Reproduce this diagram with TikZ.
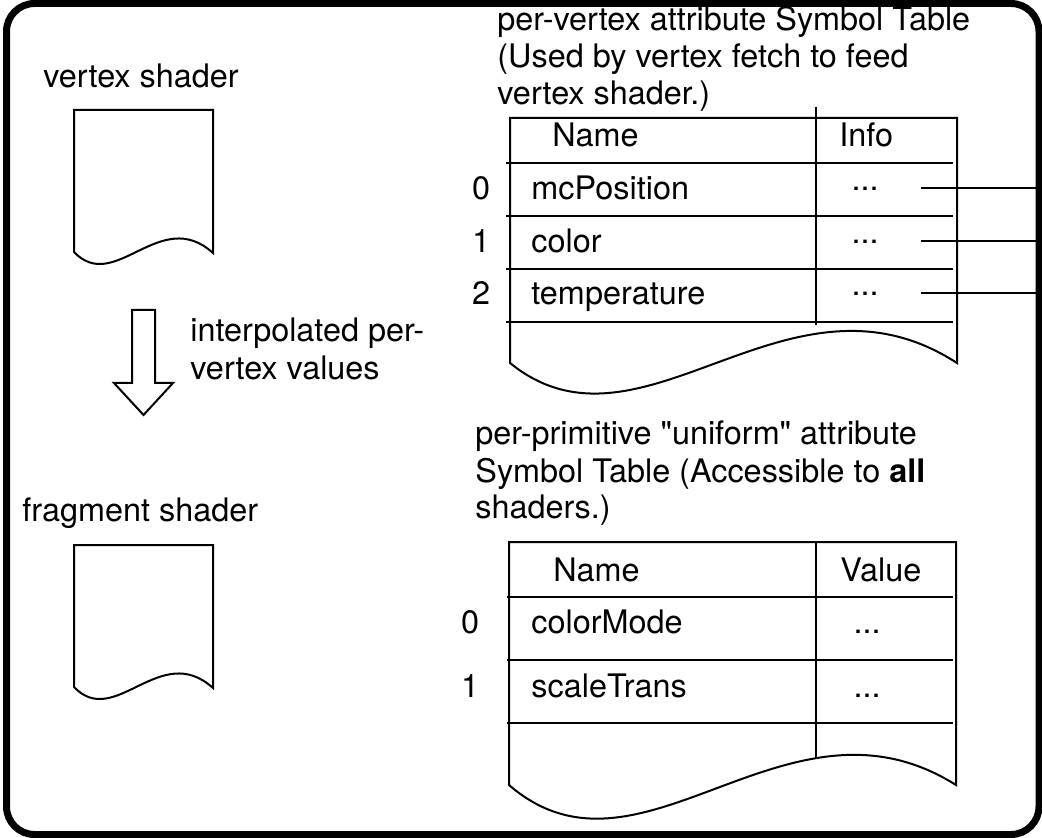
\documentclass[tikz,border=0pt]{standalone}
\usepackage{fontspec}
\setmainfont{TeX Gyre Heros}[Ligatures=TeXOff]
\usepackage{tikz}

\begin{document}
\begin{tikzpicture}[x=0.5pt,y=-0.5pt,
  font=\fontsize{16.2pt}{18.5pt}\selectfont,
  txt/.style={anchor=base west,inner sep=0pt},
  num/.style={anchor=base,inner sep=0pt},
  grid/.style={line width=1pt},
  frame/.style={line width=3.5pt,rounded corners=14pt}]
\useasboundingbox (0,0) rectangle (1042,838);
% outer frame
\draw[frame] (6.5,3.5) rectangle (1039,834.5);
\coordinate (ve0) at (1037,188);
\coordinate (ve1) at (1037,241);
\coordinate (ve2) at (1037,293);
% vertex shader (document shape)
\node[txt] (vslbl) at (43,88) {vertex shader};
\draw[grid] (74,110) -- (213,110) -- (213,253)
  .. controls (160,205) and (115,295) .. (74,252) -- cycle;
% hollow arrow and its label
\draw[grid] (132,310) -- (155,310) -- (155,383) -- (173,383)
  -- (143.5,415) -- (114,383) -- (132,383) -- cycle;
\node[txt] (ip1) at (190,342) {interpolated per-};
\node[txt] (ip2) at (190,380) {vertex values};
% fragment shader (document shape)
\node[txt] (fslbl) at (22,522) {fragment shader};
\draw[grid] (74,545) -- (213,545) -- (213,688)
  .. controls (160,640) and (115,730) .. (74,687) -- cycle;
% per-vertex table: title
\node[txt] (vt1) at (497,31)  {per-vertex attribute Symbol Table};
\node[txt] (vt2) at (497,68)  {(Used by vertex fetch to feed};
\node[txt] (vt3) at (497,105) {vertex shader.)};
% per-vertex table: outline, divider, rows
\draw[grid] (957,118) -- (510,118) -- (510,363)
  .. controls (642,470) and (787,253) .. (957,363) -- cycle;
\draw[grid] (816,107) -- (816,325);
\draw[grid] (506,163) -- (953,163);
\draw[grid] (506,216) -- (953,216);
\draw[grid] (506,269) -- (953,269);
\draw[grid] (506,322) -- (953,322);
\node[txt] (vname) at (552,147) {Name};
\node[txt] (vinfo) at (839,147) {Info};
\node[num] (vi0) at (481,200) {0};
\node[num] (vi1) at (481,253) {1};
\node[num] (vi2) at (481,305) {2};
\node[txt] (vn0) at (531,200) {mcPosition};
\node[txt] (vn1) at (531,253) {color};
\node[txt] (vn2) at (531,305) {temperature};
\node[num] (vd0) at (865,200) {\raisebox{4.6pt}{...}};
\node[num] (vd1) at (865,253) {\raisebox{4.6pt}{...}};
\node[num] (vd2) at (865,305) {\raisebox{4.6pt}{...}};
% links from the info cells to the frame
\draw[grid] (vd0.base east) ++(21pt,6pt) -- (ve0);
\draw[grid] (vd1.base east) ++(21pt,6pt) -- (ve1);
\draw[grid] (vd2.base east) ++(21pt,6pt) -- (ve2);
% uniform table: title
\node[txt] (ut1) at (475,445) {per-primitive "uniform" attribute};
\node[txt] (ut2) at (475,482) {Symbol Table (Accessible to \textbf{all}};
\node[txt] (ut3) at (475,518) {shaders.)};
% uniform table: outline, divider, rows
\draw[grid] (956,542) -- (509,542) -- (509,785)
  .. controls (641,899) and (786,678) .. (956,785) -- cycle;
\draw[grid] (816,542) -- (816,758);
\draw[grid] (507,597) -- (953,597);
\draw[grid] (507,660) -- (953,660);
\draw[grid] (507,723) -- (953,723);
\node[txt] (uname) at (553,581) {Name};
\node[txt] (uval)  at (840,581) {Value};
\node[num] (ui0) at (470,633) {0};
\node[num] (ui1) at (470,697) {1};
\node[txt] (un0) at (531,633) {colorMode};
\node[txt] (un1) at (531,697) {scaleTrans};
\node[num] (ud0) at (867,633) {...};
\node[num] (ud1) at (867,697) {...};
\end{tikzpicture}
\end{document}
